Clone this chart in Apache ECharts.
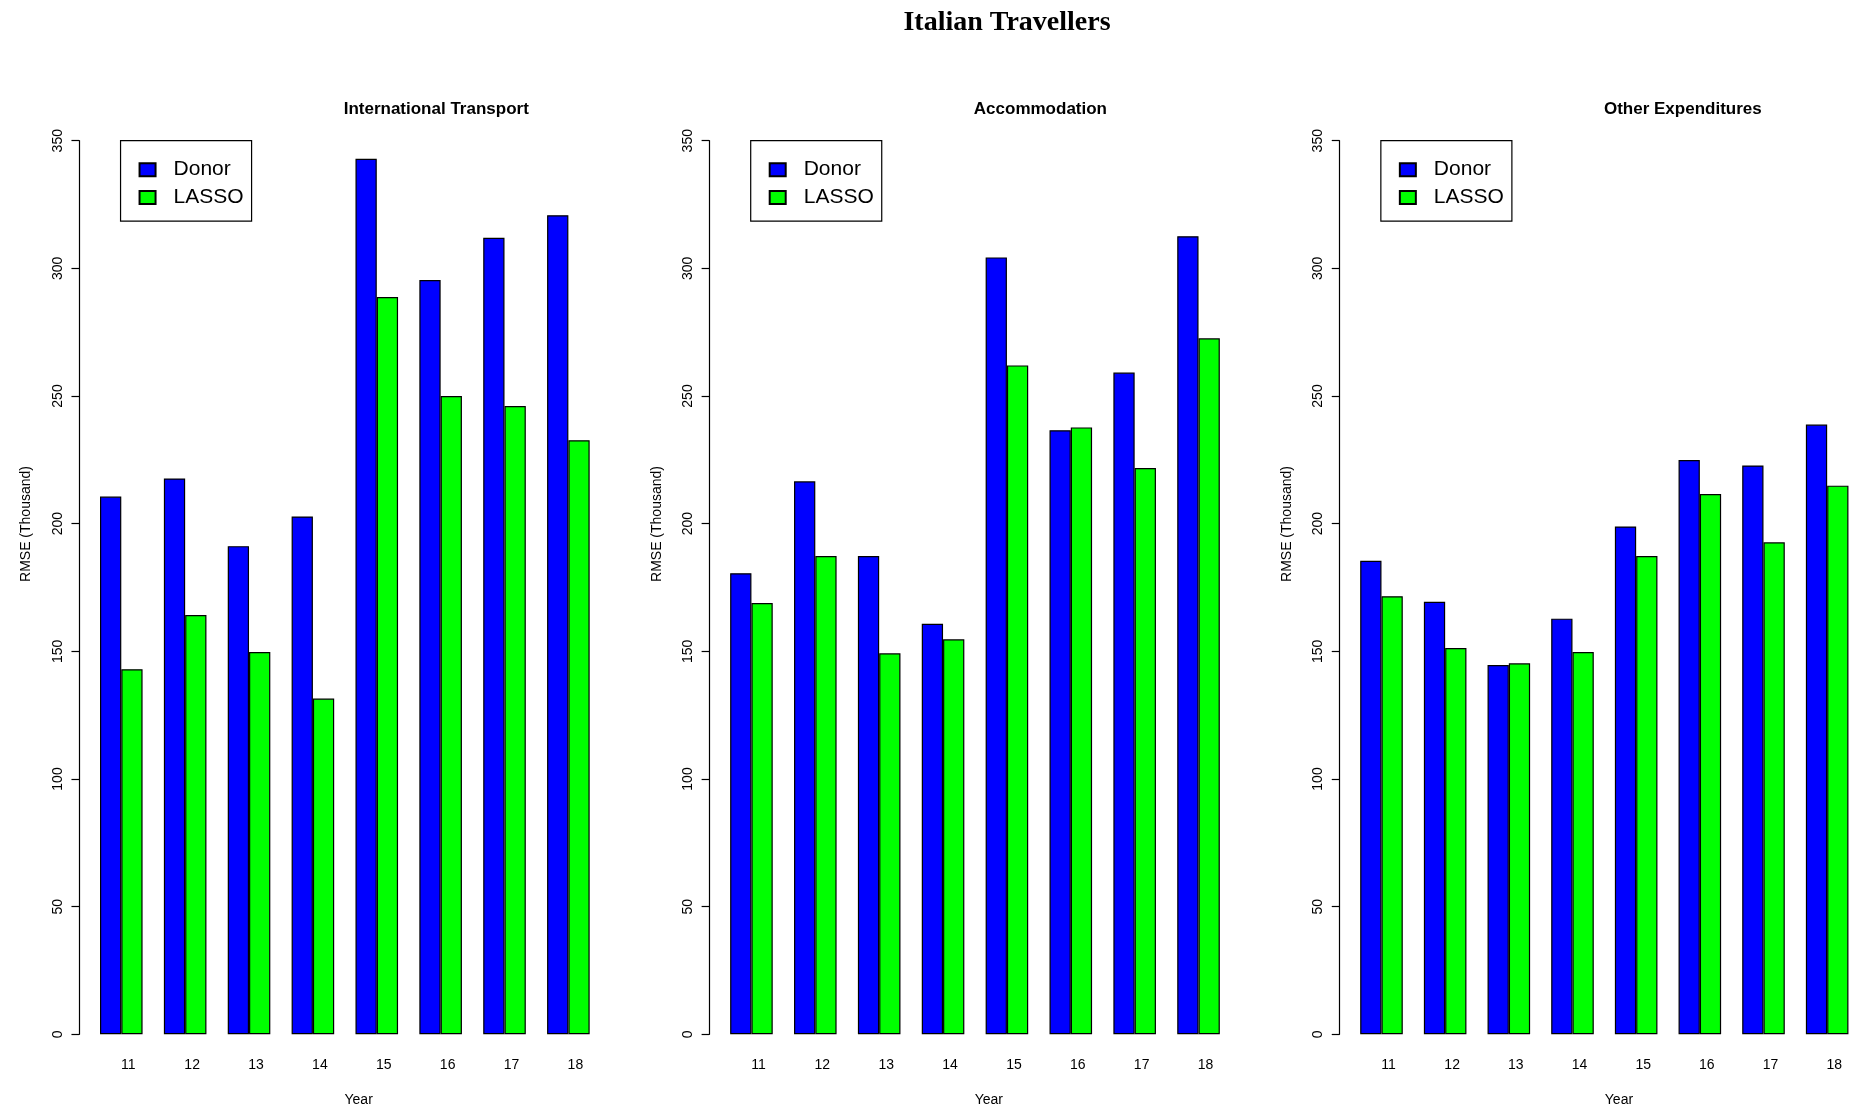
<!DOCTYPE html>
<html>
<head>
<meta charset="utf-8">
<title>Italian Travellers</title>
<script src="https://cdn.jsdelivr.net/npm/echarts@6/dist/echarts.min.js"></script>
<style>
  html, body { margin: 0; padding: 0; background: #ffffff; }
  #chart { width: 1859px; height: 1111px; }
</style>
</head>
<body>
<div id="chart"></div>
<script>
// Forecast years shown on every panel
const years = ['11', '12', '13', '14', '15', '16', '17', '18'];
const seriesNames = ['Donor', 'LASSO'];
const panelTitles = ['International Transport', 'Accommodation', 'Other Expenditures'];
const mainTitle = 'Italian Travellers';
const yAxisTitle = 'RMSE (Thousand)';
const xAxisTitle = 'Year';
const yMin = 0;
const yMax = 350;
const yStep = 50;

// RMSE (thousand) per panel and method
const transportDonor = [210.6, 217.7, 191.2, 202.8, 342.9, 295.4, 312.0, 320.8];
const transportLasso = [143.0, 164.2, 149.7, 131.5, 288.8, 250.0, 246.1, 232.7];
const accommodationDonor = [180.6, 216.6, 187.3, 160.8, 304.3, 236.6, 259.2, 312.6];
const accommodationLasso = [168.9, 187.3, 149.2, 154.7, 262.0, 237.7, 221.8, 272.6];
const otherDonor = [185.5, 169.4, 144.6, 162.8, 198.9, 224.9, 222.8, 238.8];
const otherLasso = [171.6, 151.3, 145.3, 149.7, 187.3, 211.6, 192.7, 214.9];

const panelData = [
  [transportDonor, transportLasso],
  [accommodationDonor, accommodationLasso],
  [otherDonor, otherLasso]
];
const colors = ['#0000ff', '#00ff00'];

// Layout (pixels)
const SANS = "'Liberation Sans', Arial, sans-serif";
const SERIF = "'Liberation Serif', 'Times New Roman', serif";
const PITCH = 630.15;        // horizontal distance between panels
const BAR_X0 = 100;          // left edge of the first bar in panel 1
const UNIT = 21.29;          // one bar width
const AXIS_OFFSET = 10.2;    // y-axis line sits left of the plot area
const TOP = 140.7;
const BOTTOM = 1034.3;

const grids = [], xAxes = [], yAxes = [], series = [], legends = [], graphics = [];

panelData.forEach((pair, i) => {
  const gridLeft = BAR_X0 + i * PITCH - UNIT / 2;
  const axisX = gridLeft - AXIS_OFFSET;
  grids.push({ left: gridLeft, top: TOP, width: UNIT * 24, height: BOTTOM - TOP });

  xAxes.push({
    type: 'category', gridIndex: i, data: years,
    axisLine: { show: false }, axisTick: { show: false }, splitLine: { show: false },
    axisLabel: { color: '#000', fontSize: 14, fontFamily: SANS, margin: 24, padding: [0, 0, 0, 14] }
  });

  yAxes.push({
    type: 'value', gridIndex: i, min: yMin, max: yMax, interval: yStep, offset: AXIS_OFFSET,
    axisLine: { show: true, lineStyle: { color: '#000', width: 1.2 } },
    axisTick: { show: true, length: 7.7, lineStyle: { color: '#000', width: 1.2 } },
    axisLabel: { rotate: 90, margin: 14, color: '#000', fontSize: 14, fontFamily: SANS },
    splitLine: { show: false }
  });

  pair.forEach((values, k) => {
    series.push({
      type: 'bar', name: seriesNames[k], xAxisIndex: i, yAxisIndex: i,
      data: values, barWidth: UNIT, barGap: '0%',
      itemStyle: { color: colors[k], borderColor: '#000', borderWidth: 1.2 },
      emphasis: { disabled: true }, silent: true
    });
  });

  legends.push({
    data: seriesNames.map(name => ({ name: name, icon: 'rect' })),
    orient: 'vertical', left: axisX + 41.4, top: TOP,
    padding: [18.5, 8, 13.1, 18], borderColor: '#000', borderWidth: 1.2, borderRadius: 0,
    itemWidth: 16, itemHeight: 13, itemGap: 6.9, selectedMode: false,
    textStyle: { color: '#000', fontSize: 21, fontFamily: SANS, padding: [4, 0, 0, 13] }
  });

  graphics.push({
    type: 'text', x: axisX + 264.5, y: 109,
    style: { text: panelTitles[i], fill: '#000', fontSize: 17, fontWeight: 'bold', fontFamily: SANS,
             align: 'left', verticalAlign: 'middle' }
  });
  graphics.push({
    type: 'text', x: axisX - 52.6, y: 524, rotation: Math.PI / 2,
    style: { text: yAxisTitle, fill: '#000', fontSize: 14, fontFamily: SANS,
             align: 'center', verticalAlign: 'middle' }
  });
  graphics.push({
    type: 'text', x: axisX + 279.5, y: 1100,
    style: { text: xAxisTitle, fill: '#000', fontSize: 14, fontFamily: SANS,
             align: 'center', verticalAlign: 'middle' }
  });
});

graphics.push({
  type: 'text', x: 1007, y: 22.5,
  style: { text: mainTitle, fill: '#000', fontSize: 28, fontWeight: 'bold', fontFamily: SERIF,
           align: 'center', verticalAlign: 'middle' }
});

const chart = echarts.init(document.getElementById('chart'), null, { renderer: 'canvas' });
chart.setOption({
  backgroundColor: '#ffffff',
  animation: false,
  grid: grids,
  xAxis: xAxes,
  yAxis: yAxes,
  legend: legends,
  series: series,
  graphic: graphics
});
</script>
</body>
</html>
